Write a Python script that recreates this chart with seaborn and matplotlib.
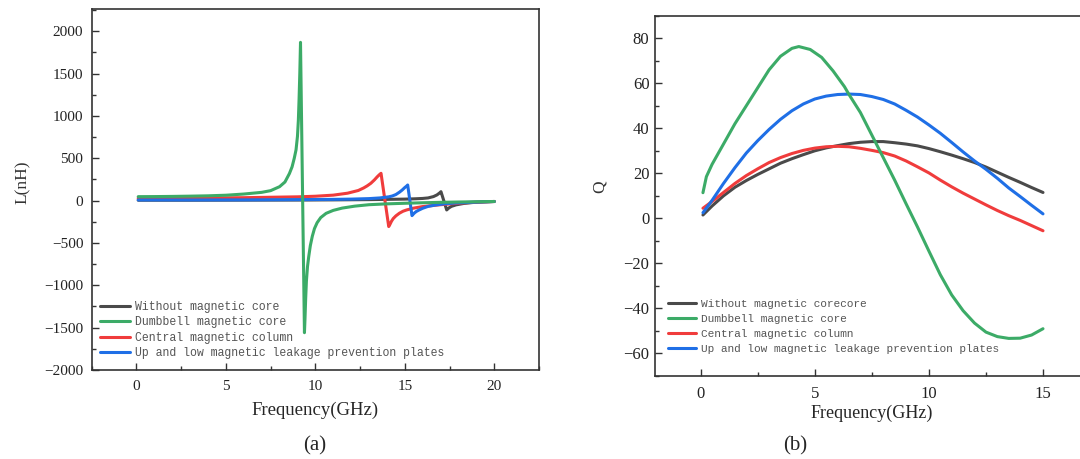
import numpy as np
import pandas as pd
import matplotlib
matplotlib.use("Agg")
import matplotlib.pyplot as plt
from matplotlib.ticker import MultipleLocator
import seaborn as sns

# ---------------- (a) inductance vs frequency ----------------
L_freq_none = [0.1, 3, 6, 9, 11, 13, 14, 15, 15.6, 16.0, 16.3, 16.6, 16.8, 16.95, 17.02,
               17.34, 17.45, 17.6, 17.86, 18.3, 18.8, 19.4, 20]
L_none = [5, 5, 6, 7, 9, 12, 15, 18, 22, 26, 32, 48, 68, 92, 106,
          -110, -88, -68, -50, -33, -22, -15, -10]

L_freq_dumbbell = [0.1, 1, 2, 3, 4, 5, 6, 6.5, 7, 7.5, 8, 8.3, 8.55, 8.7, 8.82, 8.92, 9.0,
                   9.05, 9.09, 9.13, 9.17, 9.39, 9.42, 9.46, 9.5, 9.56, 9.63, 9.72, 9.83,
                   9.95, 10.1, 10.3, 10.6, 11.0, 11.5, 12.2, 13, 14, 15, 16, 17, 18, 19, 20]
L_dumbbell = [47, 48, 50, 53, 57, 64, 78, 88, 98, 118, 165, 220, 320, 400, 500, 600, 760,
              950, 1200, 1500, 1870, -1560, -1400, -1150, -950, -780, -660, -530, -420,
              -330, -260, -200, -150, -115, -88, -65, -48, -38, -31, -25, -20, -16, -13, -10]

L_freq_column = [0.1, 3, 6, 9, 10, 11, 11.8, 12.4, 12.7, 12.9, 13.1, 13.3, 13.45, 13.57,
                 13.67, 14.1, 14.17, 14.25, 14.35, 14.5, 14.7, 14.9, 15.1, 15.5, 16.0,
                 16.9, 18.0, 18.8, 20]
L_column = [28, 30, 35, 45, 52, 65, 88, 120, 150, 175, 205, 245, 280, 305,
            323, -306, -280, -245, -212, -180, -148, -125, -110, -88, -70,
            -50, -30, -20, -10]

L_freq_plate = [0.1, 3, 6, 9, 11, 12, 13, 13.6, 14.1, 14.3, 14.5, 14.7, 14.85, 15.0, 15.1,
                15.16, 15.4, 15.47, 15.55, 15.65, 15.8, 16.0, 16.3, 16.7, 17.2, 17.86, 19, 20]
L_plate = [8, 8, 9, 12, 15, 18, 24, 32, 45, 55, 72, 100, 125, 155, 172,
           185, -177, -160, -143, -127, -110, -90, -68, -52, -38, -27, -17, -10]

# ---------------- (b) quality factor vs frequency ----------------
Q_freq = [0.1, 0.5, 1.0, 1.5, 2.0, 2.5, 3.0, 3.5, 4.0, 4.5, 5.0, 5.5, 6.0, 6.5, 7.0, 7.5,
          8.0, 8.5, 9.0, 9.5, 10.0, 10.5, 11.0, 11.5, 12.0, 12.5, 13.0, 13.5, 14.0, 14.5, 15.0]
Q_none = [1.5, 5.5, 10, 13.8, 16.8, 19.5, 22, 24.5, 26.5, 28.3, 30, 31.3, 32.3, 33.2, 33.8,
          34.1, 34.1, 33.6, 33, 32.2, 31, 29.6, 28.1, 26.5, 24.8, 22.8, 20.5, 18.2, 16, 13.7, 11.5]
Q_column = [4.5, 7.5, 11.5, 15.5, 19, 22, 24.8, 27, 28.8, 30.2, 31.2, 31.8, 32, 31.8, 31.1,
            30.2, 29.2, 27.7, 25.5, 22.9, 20.2, 17, 14, 11.2, 8.6, 6, 3.5, 1.2, -0.9, -3.2, -5.5]
Q_plate = [2.5, 8, 15.5, 22.5, 29, 34.5, 39.5, 44, 47.8, 50.8, 53, 54.3, 55, 55.2, 55,
           54.1, 52.8, 50.8, 48, 45, 41.5, 37.8, 33.7, 29.5, 25.5, 21.8, 17.8, 13.5, 9.7, 5.8, 2]
Q_freq_dumbbell = [0.1, 0.25, 0.5, 1.0, 1.5, 2.0, 2.5, 3.0, 3.5, 4.0, 4.3, 4.8, 5.3, 5.8, 6.3,
                   6.5, 7.0, 7.5, 8.0, 8.5, 9.0, 9.5, 10.0, 10.5, 11.0, 11.5, 12.0, 12.5,
                   13.0, 13.5, 14.0, 14.5, 15.0]
Q_dumbbell = [11.4, 18.5, 24, 33, 42, 50, 58, 66, 72, 75.5, 76.3, 75, 71.5, 65.5, 58.5,
              55, 47, 37, 27, 17, 6.5, -3.8, -14.5, -25, -34, -41, -46.5, -50.5,
              -52.5, -53.3, -53.2, -51.8, -49]

colors = {"none": "#4a4a4a", "dumbbell": "#3cab67", "column": "#f03c3c", "plate": "#1f6fe6"}
draw_order = ["none", "column", "plate", "dumbbell"]
legend_order = ["none", "dumbbell", "column", "plate"]


def long_form(parts):
    frames = [pd.DataFrame({"freq": f, "value": v, "series": k}) for k, (f, v) in parts.items()]
    return pd.concat(frames, ignore_index=True)


df_L = long_form({
    "none": (L_freq_none, L_none),
    "dumbbell": (L_freq_dumbbell, L_dumbbell),
    "column": (L_freq_column, L_column),
    "plate": (L_freq_plate, L_plate),
})
df_Q = long_form({
    "none": (Q_freq, Q_none),
    "dumbbell": (Q_freq_dumbbell, Q_dumbbell),
    "column": (Q_freq, Q_column),
    "plate": (Q_freq, Q_plate),
})

sns.set_style("ticks")
plt.rcParams["font.family"] = ["Liberation Serif", "DejaVu Serif"]

fig = plt.figure(figsize=(10.8, 4.59), dpi=100)
ax1 = fig.add_axes([0.0849, 0.194, 0.4142, 0.7857])
ax2 = fig.add_axes([0.6065, 0.1808, 0.4015, 0.7850])


def draw_panel(ax, df, labels, fs_leg, leg_anchor, spacing, tick_fs):
    for z, key in enumerate(draw_order):
        sub = df[df["series"] == key]
        sns.lineplot(data=sub, x="freq", y="value", ax=ax, color=colors[key], lw=2.2,
                     estimator=None, sort=False, zorder=2 + z, legend=False)
    handles = {key: ax.lines[i] for i, key in enumerate(draw_order)}
    leg = ax.legend([handles[k] for k in legend_order], [labels[k] for k in legend_order],
                    loc="lower left", bbox_to_anchor=leg_anchor, frameon=False,
                    borderaxespad=0, borderpad=0, handlelength=2.55, handletextpad=0.45,
                    labelspacing=spacing, prop={"family": "Liberation Mono", "size": fs_leg})
    for t in leg.get_texts():
        t.set_color("#555555")
    for s in ax.spines.values():
        s.set_color("#333333")
        s.set_linewidth(1.2)
    ax.tick_params(which="both", direction="in", color="#333333", width=1.0,
                   labelsize=tick_fs, labelcolor="#222222")
    ax.tick_params(which="major", length=5)
    ax.tick_params(which="minor", length=3)


labels_L = {
    "none": "Without magnetic core",
    "dumbbell": "Dumbbell magnetic core",
    "column": "Central magnetic column",
    "plate": "Up and low magnetic leakage prevention plates",
}
labels_Q = dict(labels_L)
labels_Q["none"] = "Without magnetic corecore"

draw_panel(ax1, df_L, labels_L, 8.3, (0.019, 0.03), 0.3, 11)
ax1.set_xlim(-2.5, 22.5)
ax1.set_ylim(-2000, 2260)
ax1.xaxis.set_major_locator(MultipleLocator(5))
ax1.xaxis.set_minor_locator(MultipleLocator(2.5))
ax1.yaxis.set_major_locator(MultipleLocator(500))
ax1.yaxis.set_minor_locator(MultipleLocator(250))
ax1.tick_params(axis="x", which="major", pad=7)
ax1.tick_params(axis="y", which="major", pad=6)
ax1.set_xlabel("Frequency(GHz)", fontsize=13.5, va="center")
ax1.xaxis.set_label_coords(0.5, -0.111)
ax1.set_ylabel("L(nH)", fontsize=12.5, va="center", color="#333333")
ax1.yaxis.set_label_coords(-0.155, 0.52)

draw_panel(ax2, df_Q, labels_Q, 8.0, (0.029, 0.062), 0.45, 12)
ax2.set_xlim(-2, 17)
ax2.set_ylim(-70, 90)
ax2.xaxis.set_major_locator(MultipleLocator(5))
ax2.xaxis.set_minor_locator(MultipleLocator(2.5))
ax2.yaxis.set_major_locator(MultipleLocator(20))
ax2.yaxis.set_minor_locator(MultipleLocator(10))
ax2.tick_params(axis="x", which="major", pad=7)
ax2.tick_params(axis="y", which="major", pad=4)
ax2.set_xlabel("Frequency(GHz)", fontsize=13, va="center")
ax2.xaxis.set_label_coords(0.5, -0.103)
ax2.set_ylabel("Q", fontsize=12.5, va="center", color="#333333")
ax2.yaxis.set_label_coords(-0.127, 0.525)

fig.text(315 / 1080, 1 - 446 / 459, "(a)", ha="center", va="center", fontsize=15)
fig.text(795 / 1080, 1 - 446 / 459, "(b)", ha="center", va="center", fontsize=15)

fig.savefig("out.png", dpi=100)
